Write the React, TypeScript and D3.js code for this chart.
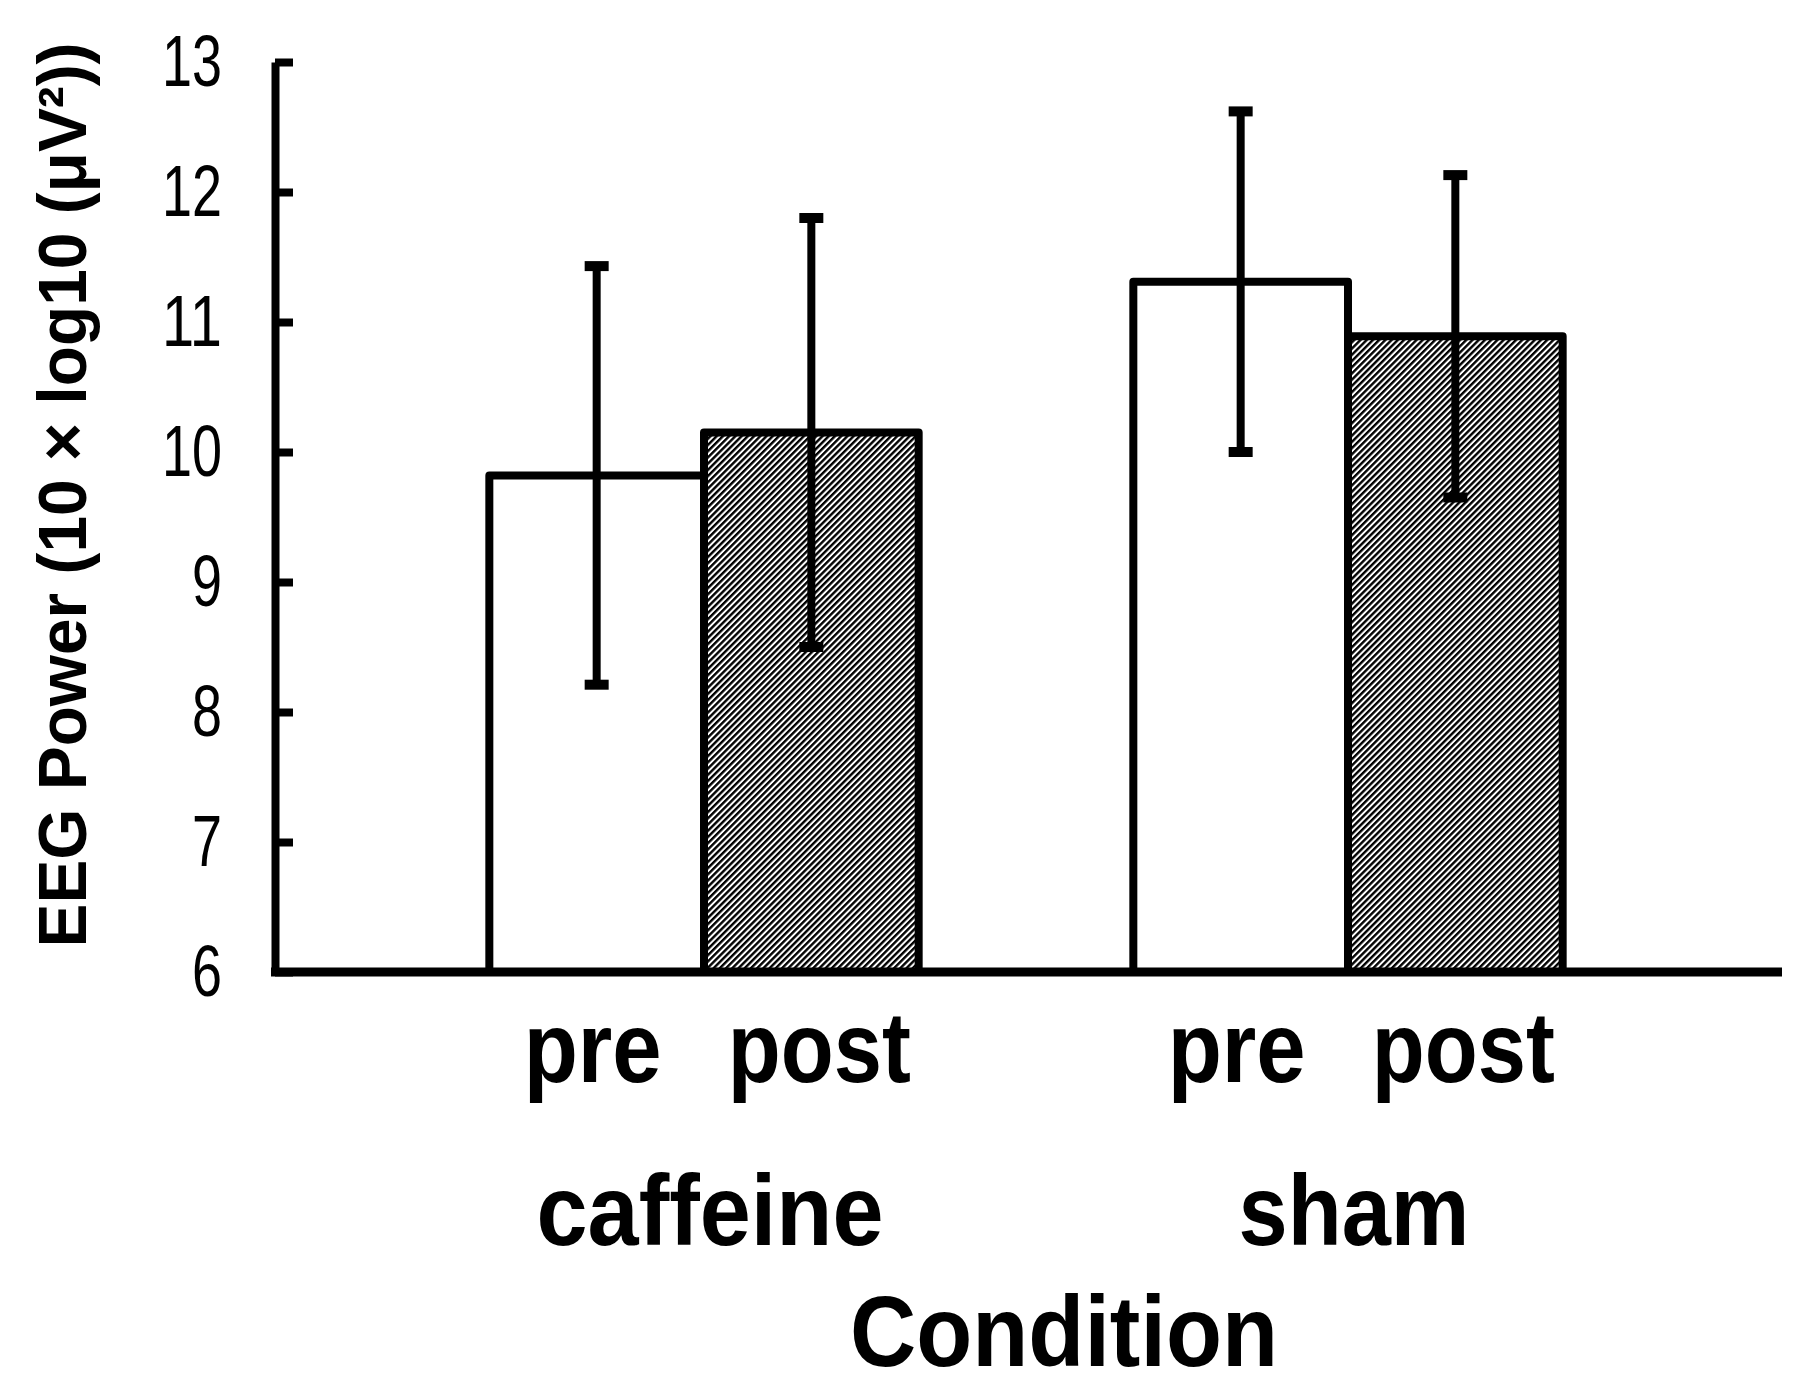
import React, { useEffect, useRef } from "react";
import * as d3 from "d3";

// ---- data ----
const groups = ["caffeine", "sham"];
const phases = ["pre", "post"];
const preMeans = [9.82, 11.31];
const postMeans = [10.15, 10.89];
const preErrors = [1.61, 1.31];
const postErrors = [1.65, 1.24];
const yTicks = [6, 7, 8, 9, 10, 11, 12, 13];
const yTitle = "EEG Power (10 × log10 (μV²))";
const xTitle = "Condition";

const W = 1811;
const H = 1399;
const FONT = "'Liberation Sans Narrow', 'Liberation Sans', Arial, sans-serif";
const LABEL_FONT = "'Liberation Sans', Arial, sans-serif";

export default function App() {
  const ref = useRef<SVGSVGElement | null>(null);

  useEffect(() => {
    const svg = d3.select(ref.current);
    svg.selectAll("*").remove();

    const axisX0 = 275;
    const axisX1 = 1782;
    const y = d3.scaleLinear().domain([6, 13]).range([972, 62]);
    const x0 = d3.scaleBand<string>().domain(groups).range([382, 1670]).paddingInner(0).paddingOuter(0);
    const x1 = d3.scaleBand<string>().domain(phases).range([0, x0.bandwidth()]).paddingInner(0).paddingOuter(0.5);

    const defs = svg.append("defs");
    const pat = defs
      .append("pattern")
      .attr("id", "hatch")
      .attr("patternUnits", "userSpaceOnUse")
      .attr("width", 4.4)
      .attr("height", 4.4)
      .attr("patternTransform", "rotate(45)");
    pat.append("rect").attr("width", 4.4).attr("height", 4.4).attr("fill", "#fff");
    pat.append("line").attr("x1", 1.2).attr("y1", 0).attr("x2", 1.2).attr("y2", 4.4)
      .attr("stroke", "#000").attr("stroke-width", 2.4);

    svg.append("rect").attr("width", W).attr("height", H).attr("fill", "#fff");

    const rows = groups.flatMap((g, i) => [
      { g, p: "pre", v: preMeans[i], e: preErrors[i] },
      { g, p: "post", v: postMeans[i], e: postErrors[i] },
    ]);

    // bars
    svg.append("g")
      .selectAll("rect")
      .data(rows)
      .join("rect")
      .attr("x", (d) => (x0(d.g) as number) + (x1(d.p) as number))
      .attr("y", (d) => y(d.v))
      .attr("width", x1.bandwidth())
      .attr("height", (d) => y(6) - y(d.v))
      .attr("fill", (d) => (d.p === "pre" ? "#fff" : "url(#hatch)"))
      .attr("stroke", "#000")
      .attr("stroke-width", 8)
      .attr("stroke-linejoin", "round");

    // error bars
    const eg = svg.append("g");
    rows.forEach((d) => {
      const cx = (x0(d.g) as number) + (x1(d.p) as number) + x1.bandwidth() / 2;
      eg.append("line").attr("x1", cx).attr("x2", cx)
        .attr("y1", y(d.v + d.e)).attr("y2", y(d.v - d.e))
        .attr("stroke", "#000").attr("stroke-width", 8);
      [d.v + d.e, d.v - d.e].forEach((t) => {
        eg.append("line").attr("x1", cx - 12).attr("x2", cx + 12)
          .attr("y1", y(t)).attr("y2", y(t))
          .attr("stroke", "#000").attr("stroke-width", 10);
      });
    });

    // y axis
    const yAxis = d3.axisLeft(y).tickValues(yTicks).tickSizeInner(-18).tickSizeOuter(0).tickPadding(53).tickFormat(d3.format("d"));
    const ga = svg.append("g").attr("transform", `translate(${axisX0},0)`).call(yAxis);
    ga.select(".domain").attr("stroke", "#000").attr("stroke-width", 8);
    ga.selectAll(".tick line").attr("stroke", "#000").attr("stroke-width", 8);
    ga.selectAll(".tick text")
      .attr("font-family", FONT)
      .attr("font-size", 72)
      .attr("fill", "#000")
      .attr("dy", "0.33em")
      .attr("textLength", (d: any) => String(d).length * 30)
      .attr("lengthAdjust", "spacingAndGlyphs");

    // x axis line
    svg.append("line").attr("x1", axisX0 - 4).attr("x2", axisX1)
      .attr("y1", y(6)).attr("y2", y(6))
      .attr("stroke", "#000").attr("stroke-width", 9);

    // phase labels
    const phaseWidth: Record<string, number> = { pre: 138, post: 183 };
    svg.append("g").selectAll("text").data(rows).join("text")
      .attr("x", (d) => (x0(d.g) as number) + (x1(d.p) as number) + x1.bandwidth() / 2 + (d.p === "post" ? 8 : -4))
      .attr("y", 1082)
      .attr("text-anchor", "middle")
      .attr("font-family", LABEL_FONT)
      .attr("font-weight", "bold")
      .attr("font-size", 100)
      .attr("textLength", (d) => phaseWidth[d.p])
      .attr("lengthAdjust", "spacingAndGlyphs")
      .text((d) => d.p);

    // group labels
    const groupWidth: Record<string, number> = { caffeine: 347, sham: 231 };
    svg.append("g").selectAll("text").data(groups).join("text")
      .attr("x", (g) => (x0(g) as number) + x0.bandwidth() / 2 + 6)
      .attr("y", 1245)
      .attr("text-anchor", "middle")
      .attr("font-family", LABEL_FONT)
      .attr("font-weight", "bold")
      .attr("font-size", 100)
      .attr("textLength", (g) => groupWidth[g])
      .attr("lengthAdjust", "spacingAndGlyphs")
      .text((g) => g);

    // x title
    svg.append("text")
      .attr("x", 1064)
      .attr("y", 1366)
      .attr("text-anchor", "middle")
      .attr("font-family", LABEL_FONT)
      .attr("font-weight", "bold")
      .attr("font-size", 100)
      .attr("textLength", 428)
      .attr("lengthAdjust", "spacingAndGlyphs")
      .text(xTitle);

    // y title
    svg.append("text")
      .attr("transform", "translate(86,495) rotate(-90)")
      .attr("text-anchor", "middle")
      .attr("font-family", FONT)
      .attr("font-weight", "bold")
      .attr("font-size", 68)
      .attr("textLength", 905)
      .attr("lengthAdjust", "spacingAndGlyphs")
      .text(yTitle);
  }, []);

  return (
    <svg
      ref={ref}
      width={W}
      height={H}
      style={{ position: "absolute", left: 0, top: 0, background: "#fff" }}
    />
  );
}
